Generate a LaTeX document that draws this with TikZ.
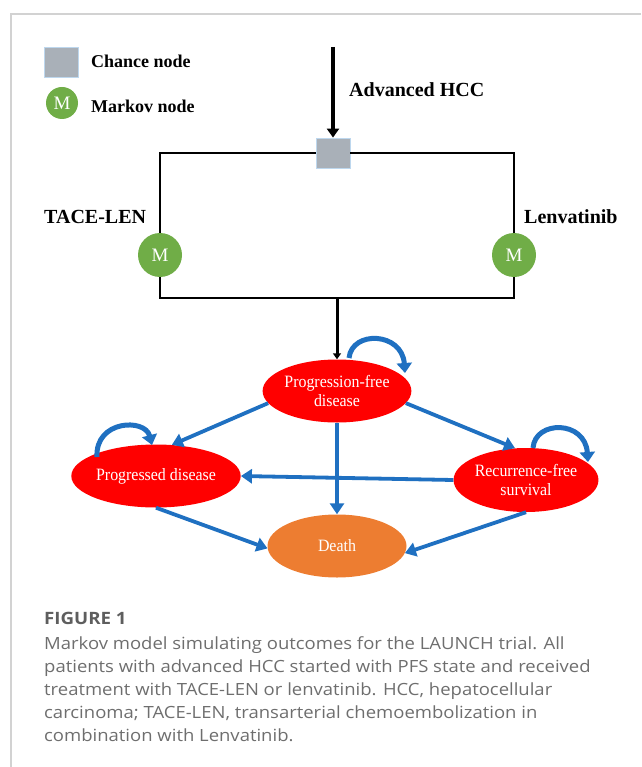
\documentclass[tikz,border=0pt]{standalone}
\usepackage{fontspec}
\setmainfont{Liberation Serif}
\newfontfamily\capfont[FakeStretch=1.1]{Open Sans}
\newfontfamily\statefont[FakeStretch=0.92]{Liberation Serif}
\usetikzlibrary{arrows.meta,shapes.geometric}
\definecolor{redst}{HTML}{FF0000}
\definecolor{deathc}{HTML}{ED7D31}
\definecolor{arrowblue}{HTML}{1F70C1}
\definecolor{markovg}{HTML}{70AD47}
\definecolor{chanceg}{HTML}{A9B0B8}
\definecolor{chanceb}{HTML}{BDD7EE}
\definecolor{framec}{HTML}{D2D2D2}
\definecolor{captxt}{HTML}{6E6E6E}
\definecolor{capfig}{HTML}{5E5E5E}
\tikzset{
  state/.style={ellipse, fill=redst, text=white, align=center, inner sep=0pt,
    font=\statefont\fontsize{17.3}{19.5}\selectfont, minimum width=138pt, minimum height=63pt},
  chancebox/.style={rectangle, fill=chanceg, draw=chanceb, line width=0.8pt,
    inner sep=0pt, minimum width=34pt, minimum height=30pt},
  markovnode/.style={circle, fill=markovg, text=white, inner sep=0pt,
    minimum size=44pt, font=\fontsize{19}{19}\selectfont},
  blabel/.style={inner sep=0pt, anchor=base west, font=\fontsize{20}{20}\selectfont\bfseries},
  leglabel/.style={inner sep=0pt, anchor=base west, font=\fontsize{18}{18}\selectfont\bfseries},
  rail/.style={draw=black, line width=1.6pt},
  flow/.style={draw=arrowblue, line width=3.8pt, -{Triangle[length=11pt,width=14pt]}},
  selfloop/.style={draw=arrowblue, line width=5pt, -{Triangle[length=10pt,width=15pt]}},
  capline/.style={inner sep=0pt, anchor=base west, text=captxt,
    font=\capfont\fontsize{16.8}{23}\selectfont},
}
\begin{document}
\begin{tikzpicture}[x=1pt,y=-1pt]
\useasboundingbox (0,0) rectangle (641,767);
% frame
\draw[framec, line width=1.2pt] (641,14) -- (11,14) -- (11,767);
% legend
\node[chancebox] (legchance) at (61.5,62) {};
\node[leglabel] (legchancet) at (91,68) {Chance node};
\node[markovnode, minimum size=32pt] (legmarkov) at (62,103) {M};
\node[leglabel] (legmarkovt) at (91,113) {Markov node};
% decision part
\coordinate (start) at (333,47);
\node[chancebox] (ch) at (333,153) {};
\draw[black, line width=4pt, -{Triangle[length=9pt,width=12pt]}] (start) -- (ch.north);
\node[blabel] (adv) at (349,97) {Advanced HCC};
\node[markovnode] (tace) at (160,255) {M};
\node[markovnode] (lenv) at (514,255) {M};
\node[blabel] (tacet) at (44,223) {TACE-LEN};
\node[blabel] (lenvt) at (524,223) {Lenvatinib};
\draw[rail] (ch.west) -| (tace.north);
\draw[rail] (ch.east) -| (lenv.north);
\coordinate (join) at (337,298);
\draw[rail] (tace.south) |- (join) -| (lenv.south);
% states
\node[state] (pf) at (337,391) {Progression-free\\disease};
\node[state] (pd) at (156,476) {Progressed disease};
\node[state, minimum height=64pt] (rfs) at (526,480) {Recurrence-free\\survival};
\node[state, fill=deathc, minimum width=139pt] (death) at (337,546) {Death};
\draw[black, line width=3pt, -{Triangle[length=6pt,width=8pt]}] (join) -- (pf.north);
% transitions
\draw[flow] (pf.190) -- (pd.63);
\draw[flow] (pf.350) -- (rfs.109);
\draw[flow] (pf.south) -- (death.north);
\draw[flow] (rfs.west) -- (pd.east);
\draw[flow] (pd.south) -- (death.182);
\draw[flow] (rfs.south) -- (death.354);
% self loops
\draw[selfloop] ([shift={(12,-33)}]pf.center) .. controls +(3,-28) and +(-3,-41) .. ([shift={(68,-18)}]pf.center);
\draw[selfloop] ([shift={(-59,-19)}]pd.center) .. controls +(-2,-37) and +(-7,-27) .. ([shift={(-4,-31)}]pd.center);
\draw[selfloop] ([shift={(7,-32)}]rfs.center) .. controls +(2,-28) and +(-3,-42) .. ([shift={(62,-18)}]rfs.center);
% caption
\node[inner sep=0pt, anchor=base west, text=capfig, font=\capfont\fontsize{17}{20}\selectfont\bfseries] (fig) at (44,624) {FIGURE 1};
\node[capline] (c1) at (44,649) {Markov model simulating outcomes for the LAUNCH trial. All};
\node[capline] (c2) at (44,672) {patients with advanced HCC started with PFS state and received};
\node[capline] (c3) at (44,695.5) {treatment with TACE-LEN or lenvatinib. HCC, hepatocellular};
\node[capline] (c4) at (44,718.5) {carcinoma; TACE-LEN, transarterial chemoembolization in};
\node[capline] (c5) at (44,741.5) {combination with Lenvatinib.};
\end{tikzpicture}
\end{document}
